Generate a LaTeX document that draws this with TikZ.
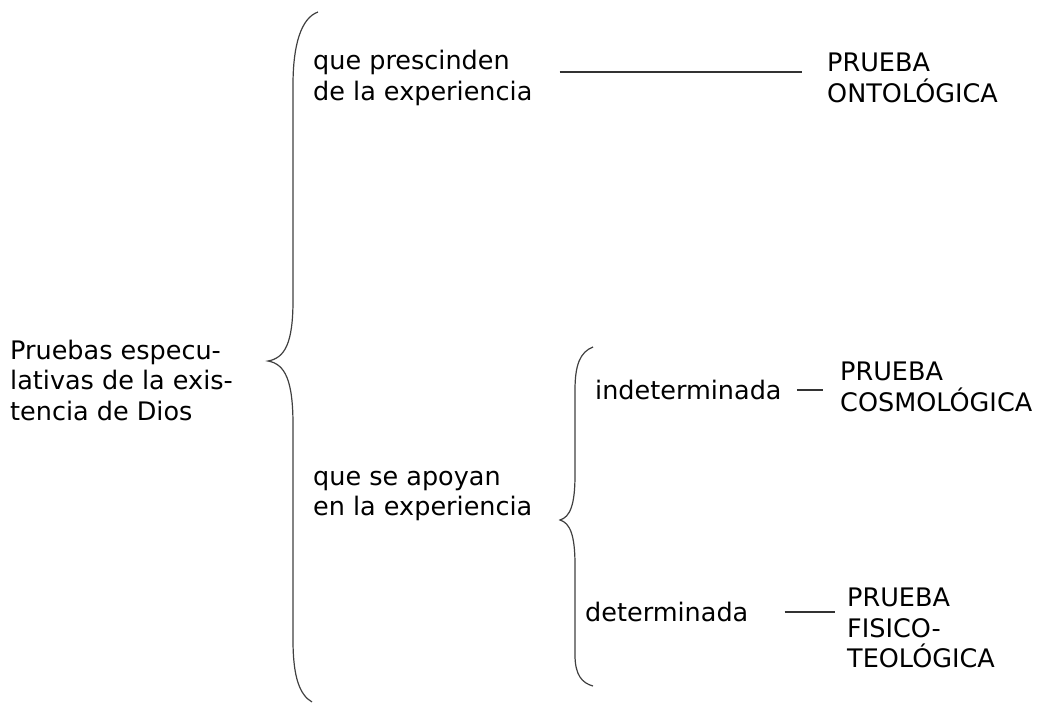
\documentclass[tikz,border=0pt]{standalone}
\usepackage{fontspec}
\setmainfont{DejaVu Sans}
\usepackage{tikz}
\usetikzlibrary{positioning}

\begin{document}
\begin{tikzpicture}[x=1pt, y=1pt,
				brace/.style={draw=black!75, line width=1.2pt},
				link/.style={draw=black!80, line width=1.3pt}]
					\tikzstyle{every node}=[anchor=west, align=left, inner sep=0pt, text=black, font=\fontsize{25.5}{30.5}\selectfont]
					\useasboundingbox (0,0) rectangle (1048,-702);
					% texts
					\node (pruebas) at (10,-380) {Pruebas especu-\\lativas de la exis-\\tencia de Dios};
					\node (prescinden) at (313,-78) {que prescinden\\de la experiencia};
					\node (ontologica) at (827,-78) {PRUEBA\\ONTOLÓGICA};
					\node (apoyan) at (313,-496) {que se apoyan\\en la experiencia};
					\node (indet) at (595,-390) {indeterminada};
					\node (cosmologica) at (840,-387) {PRUEBA\\COSMOLÓGICA};
					\node (det) at (585,-612) {determinada};
					\node (fisico) at (847,-628) {PRUEBA\\FISICO-\\TEOLÓGICA};
					% braces
					\draw[brace] (318,-12) .. controls (301,-18) and (293,-45) .. (293,-85) -- (293,-300)
						.. controls (293,-343) and (285,-358) .. (268,-361)
						.. controls (285,-364) and (293,-380) .. (293,-425) -- (293,-640)
						.. controls (293,-678) and (300,-695) .. (312,-702);
					\draw[brace] (593,-347) .. controls (580,-352) and (575,-365) .. (575,-390) -- (575,-475)
						.. controls (575,-505) and (570,-517) .. (560,-520)
						.. controls (570,-523) and (575,-535) .. (575,-565) -- (575,-655)
						.. controls (575,-675) and (582,-683) .. (593,-686);
					% links
					\draw[link] ([shift={(27,6)}]prescinden.east) -- ([shift={(-25,6)}]ontologica.west);
					\draw[link] ([xshift=15pt]indet.east) -- ([shift={(-17,-3)}]cosmologica.west);
					\draw[link] ([xshift=36pt]det.east) -- ([shift={(-12,16)}]fisico.west);
				\end{tikzpicture}
\end{document}
